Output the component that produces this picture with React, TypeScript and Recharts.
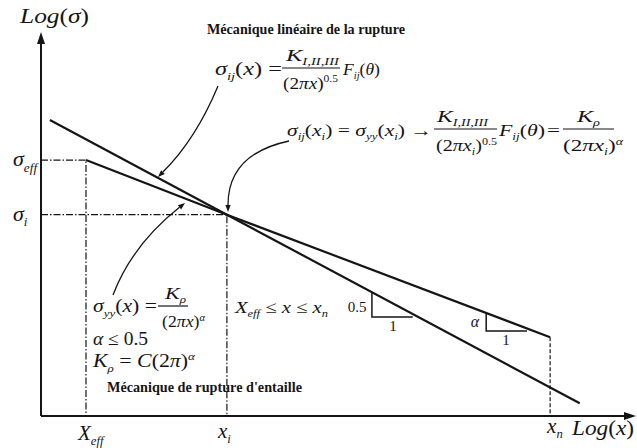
import React from "react";
import { ComposedChart, Line, XAxis, YAxis, ReferenceDot } from "recharts";

// log-log sketch: x in log(x) units, y in log(sigma) units
const lefmX = [0.15, 3.14, 9.1];
const lefmY = [4.66, 3.17, 0.2];
const notchX = [0.76, 3.14, 8.6];
const notchY = [4.03, 3.17, 1.24];

const xTicks = [0.76, 3.14, 8.6]; // X_eff, x_i, x_n
const xTickLabels = [["X", "eff"], ["x", "i"], ["x", "n"]];
const yTicks = [3.17, 4.03]; // sigma_i, sigma_eff
const yTickLabels = [["σ", "i"], ["σ", "eff"]];

const slopeHalfX = [5.59, 5.59, 6.28];
const slopeHalfY = [1.94, 1.56, 1.56];
const slopeAlphaX = [7.52, 7.52, 8.21];
const slopeAlphaY = [1.62, 1.34, 1.34];

const toPts = (xs: number[], ys: number[]) => xs.map((x, i) => ({ x, y: ys[i] }));

const lefm = toPts(lefmX, lefmY);
const notch = toPts(notchX, notchY);
const effGuide = toPts([0, xTicks[0], xTicks[0]], [yTicks[1], yTicks[1], 0]);
const iGuide = toPts([0, xTicks[1], xTicks[1]], [yTicks[0], yTicks[0], 0]);
const nGuide = toPts([xTicks[2], xTicks[2]], [notchY[2], 0]);
const slopeHalf = toPts(slopeHalfX, slopeHalfY);
const slopeAlpha = toPts(slopeAlphaX, slopeAlphaY);

const FONT = "'Liberation Serif', 'Times New Roman', serif";
const INK = "#151515";

// kind: i = italic, b = subscript, p = superscript
type Part = [string, string?];

function Rich({ x, y, size, parts, width, anchor = "start" }: {
  x: number; y: number; size: number; parts: Part[]; width?: number; anchor?: string;
}) {
  let shift = 0;
  const spans = parts.map(([t, k = ""], idx) => {
    const target = k.includes("b") ? size * 0.25 : k.includes("p") ? -size * 0.4 : 0;
    const dy = target - shift;
    shift = target;
    const small = k.includes("b") || k.includes("p");
    return (
      <tspan key={idx} dy={dy} fontSize={small ? size * 0.6 : size} fontStyle={k.includes("i") ? "italic" : "normal"}>
        {t}
      </tspan>
    );
  });
  return (
    <text x={x} y={y} fontSize={size} fontFamily={FONT} fill={INK} textAnchor={anchor}
      textLength={width} lengthAdjust={width ? "spacingAndGlyphs" : undefined}>
      {spans}
    </text>
  );
}

function CurveArrow({ from, ctrl, to }: { from: number[]; ctrl: number[]; to: number[] }) {
  const a = Math.atan2(to[1] - ctrl[1], to[0] - ctrl[0]);
  const len = 7, half = 2.6;
  const bx = to[0] - len * Math.cos(a), by = to[1] - len * Math.sin(a);
  const p1 = [bx + half * Math.sin(a), by - half * Math.cos(a)];
  const p2 = [bx - half * Math.sin(a), by + half * Math.cos(a)];
  return (
    <g>
      <path d={`M${from[0]},${from[1]} Q${ctrl[0]},${ctrl[1]} ${bx},${by}`} fill="none" stroke={INK} strokeWidth={1.3} />
      <polygon points={`${to[0]},${to[1]} ${p1[0]},${p1[1]} ${p2[0]},${p2[1]}`} fill={INK} />
    </g>
  );
}

function XTick(props: any) {
  const { x, y, payload } = props;
  const idx = xTicks.indexOf(payload.value);
  const [main, sub] = xTickLabels[idx];
  const dx = [-8, -9, -3][idx];
  const base = [24, 22, 17][idx];
  return <Rich x={x + dx} y={y + base} size={21} parts={[[main, "i"], [sub, "ib"]]} />;
}

function YTick(props: any) {
  const { y, payload } = props;
  const idx = yTicks.indexOf(payload.value);
  const [main, sub] = yTickLabels[idx];
  return <Rich x={13} y={y + 6} size={22} parts={[[main, "i"], [sub, "ib"]]} />;
}

function Arrowhead(props: any) {
  const { cx, cy, dir } = props;
  if (cx == null || cy == null) return null;
  const pts = dir === "up"
    ? `${cx},${cy - 3} ${cx - 4},${cy + 9} ${cx + 4},${cy + 9}`
    : `${cx + 3},${cy} ${cx - 9},${cy - 4} ${cx - 9},${cy + 4}`;
  return <polygon points={pts} fill={INK} />;
}

const dashDot = "7 2 1.5 2";

function Annotations() {
  return (
    <svg width={637} height={448} style={{ position: "absolute", left: 0, top: 0, pointerEvents: "none" }}>
      <Rich x={20} y={23} size={22} width={69} parts={[["Log", "i"], ["("], ["σ", "i"], [")"]]} />
      <Rich x={572} y={435} size={22} width={62} parts={[["Log", "i"], ["("], ["x", "i"], [")"]]} />

      <text x={207} y={34} fontSize={14} fontFamily={FONT} fontWeight="bold" fill={INK} textLength={198} lengthAdjust="spacingAndGlyphs">
        Mécanique linéaire de la rupture
      </text>
      <text x={107} y={392} fontSize={14} fontFamily={FONT} fontWeight="bold" fill={INK} textLength={195} lengthAdjust="spacingAndGlyphs">
        Mécanique de rupture d'entaille
      </text>

      {/* LEFM formula */}
      <Rich x={215} y={75} size={18} width={67} parts={[["σ", "i"], ["ij", "ib"], ["("], ["x", "i"], [")"], [" ="]]} />
      <Rich x={286} y={61} size={17} width={53} parts={[["K", "i"], ["I,II,III", "ib"]]} />
      <line x1={282} x2={340} y1={68} y2={68} stroke={INK} strokeWidth={1.2} />
      <Rich x={283} y={89} size={17} width={55} parts={[["(2"], ["πx", "i"], [")"], ["0.5", "p"]]} />
      <Rich x={343} y={75} size={17} width={37} parts={[["F", "i"], ["ij", "ib"], ["("], ["θ", "i"], [")"]]} />

      {/* transition formula */}
      <Rich x={287} y={136} size={17} width={145}
        parts={[["σ", "i"], ["ij", "ib"], ["("], ["x", "i"], ["i", "ib"], [")"], [" = "], ["σ", "i"], ["yy", "ib"], ["("], ["x", "i"], ["i", "ib"], [")"], [" →"]]} />
      <Rich x={437} y={122} size={16} width={51} parts={[["K", "i"], ["I,II,III", "ib"]]} />
      <line x1={434} x2={497} y1={129} y2={129} stroke={INK} strokeWidth={1.2} />
      <Rich x={436} y={151} size={16} width={61} parts={[["(2"], ["πx", "i"], ["i", "ib"], [")"], ["0.5", "p"]]} />
      <Rich x={499} y={136} size={17} width={46} parts={[["F", "i"], ["ij", "ib"], ["("], ["θ", "i"], [")"]]} />
      <Rich x={547} y={136} size={17} width={13} parts={[["="]]} />
      <Rich x={577} y={122} size={16} width={23} parts={[["K", "i"], ["ρ", "ib"]]} />
      <line x1={563} x2={614} y1={129} y2={129} stroke={INK} strokeWidth={1.2} />
      <Rich x={563} y={151} size={16} width={60} parts={[["(2"], ["πx", "i"], ["i", "ib"], [")"], ["α", "ip"]]} />

      {/* notch formula */}
      <Rich x={93} y={312} size={18} width={64} parts={[["σ", "i"], ["yy", "ib"], ["("], ["x", "i"], [")"], [" ="]]} />
      <Rich x={165} y={299} size={16} width={21} parts={[["K", "i"], ["ρ", "ib"]]} />
      <line x1={158} x2={188} y1={306} y2={306} stroke={INK} strokeWidth={1.2} />
      <Rich x={162} y={327} size={16} width={43} parts={[["(2"], ["πx", "i"], [")"], ["α", "ip"]]} />
      <Rich x={93} y={345} size={18} width={55} parts={[["α", "i"], [" ≤ 0.5"]]} />
      <Rich x={93} y={367} size={18} width={102} parts={[["K", "i"], ["ρ", "ib"], [" = "], ["C", "i"], ["(2"], ["π", "i"], [")"], ["α", "ip"]]} />
      <Rich x={235} y={313} size={17} width={93} parts={[["X", "i"], ["eff", "ib"], [" ≤ "], ["x", "i"], [" ≤ "], ["x", "i"], ["n", "ib"]]} />

      {/* slope triangle labels */}
      <Rich x={357} y={312} size={15} anchor="middle" parts={[["0.5"]]} />
      <Rich x={393} y={331} size={15} anchor="middle" parts={[["1"]]} />
      <Rich x={475} y={327} size={16} anchor="middle" parts={[["α", "i"]]} />
      <Rich x={506} y={345} size={15} anchor="middle" parts={[["1"]]} />

      <CurveArrow from={[218, 86]} ctrl={[196, 139]} to={[158, 177]} />
      <CurveArrow from={[289, 141]} ctrl={[228, 154]} to={[228, 212]} />
      <CurveArrow from={[113, 295]} ctrl={[132, 245]} to={[185, 203]} />
    </svg>
  );
}

export default function App() {
  const solid = { dot: false, isAnimationActive: false, stroke: INK, type: "linear" as const, dataKey: "y" };
  return (
    <div style={{ position: "absolute", left: 0, top: 0, width: 637, height: 448, background: "#fff" }}>
      <ComposedChart width={637} height={448} margin={{ top: 35, right: 4, bottom: 0, left: 0 }}>
        <XAxis type="number" dataKey="x" domain={[0, 10]} allowDataOverflow ticks={xTicks} interval={0}
          height={32} tickLine={false} tickSize={0} tickMargin={0}
          axisLine={{ stroke: INK, strokeWidth: 2 }} tick={(p: any) => <XTick {...p} />} />
        <YAxis type="number" domain={[0, 6]} allowDataOverflow ticks={yTicks} interval={0}
          width={41} tickLine={false} tickSize={0} tickMargin={0}
          axisLine={{ stroke: INK, strokeWidth: 2 }} tick={(p: any) => <YTick {...p} />} />

        <Line {...solid} data={effGuide} strokeWidth={1.2} strokeDasharray={dashDot} />
        <Line {...solid} data={iGuide} strokeWidth={1.2} strokeDasharray={dashDot} />
        <Line {...solid} data={nGuide} strokeWidth={1.2} strokeDasharray="4 2" />
        <Line {...solid} data={lefm} strokeWidth={2.2} />
        <Line {...solid} data={notch} strokeWidth={2.2} />
        <Line {...solid} data={slopeHalf} strokeWidth={1.5} />
        <Line {...solid} data={slopeAlpha} strokeWidth={1.5} />

        <ReferenceDot x={10} y={0} r={0} ifOverflow="visible" shape={(p: any) => <Arrowhead {...p} dir="right" />} />
        <ReferenceDot x={0} y={6} r={0} ifOverflow="visible" shape={(p: any) => <Arrowhead {...p} dir="up" />} />
      </ComposedChart>
      <Annotations />
    </div>
  );
}
